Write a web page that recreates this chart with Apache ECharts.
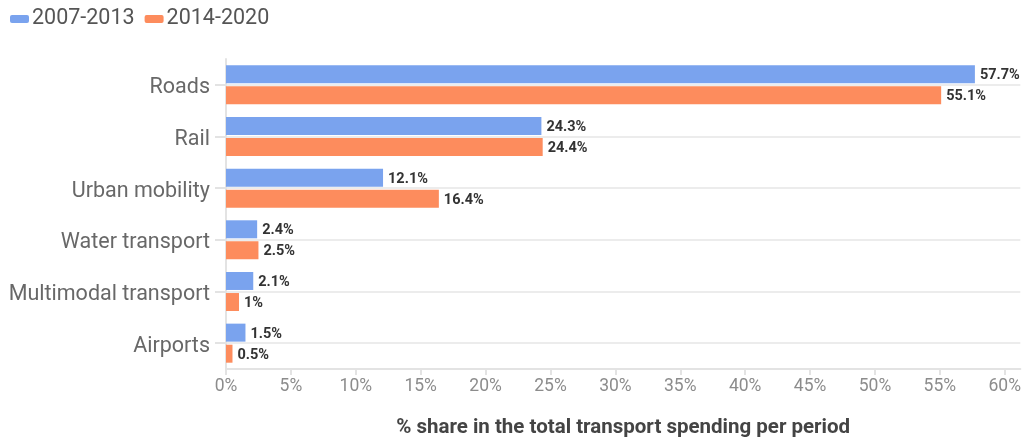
<!DOCTYPE html>
<html>
<head>
<meta charset="utf-8">
<script src="https://cdn.jsdelivr.net/npm/echarts@6/dist/echarts.min.js"></script>
<style>
  html, body { margin: 0; padding: 0; background: #ffffff; }
  #chart { width: 1024px; height: 443px; }
</style>
</head>
<body>
<div id="chart"></div>
<script>
// Transport spending share by mode, two programming periods
const categories = ['Roads', 'Rail', 'Urban mobility', 'Water transport', 'Multimodal transport', 'Airports'];
const period1Name = '2007-2013';
const period2Name = '2014-2020';
const period1Values = [57.7, 24.3, 12.1, 2.4, 2.1, 1.5];
const period2Values = [55.1, 24.4, 16.4, 2.5, 1, 0.5];
const xTicks = [0, 5, 10, 15, 20, 25, 30, 35, 40, 45, 50, 55, 60];

const chart = echarts.init(document.getElementById('chart'), null, { renderer: 'canvas' });
const FONT = 'Roboto, "Noto Sans", sans-serif';

const labelStyle = {
  show: true,
  position: 'right',
  distance: 5,
  formatter: p => '{v|' + p.value + '%}',
  rich: {
    v: { fontFamily: FONT, fontWeight: 'bold', fontSize: 14.5, color: '#333333', padding: [3, 0, 0, 0] }
  }
};

chart.setOption({
  animation: false,
  textStyle: { fontFamily: FONT },
  legend: {
    left: 5,
    top: 3,
    itemWidth: 19,
    itemHeight: 8,
    itemGap: 10,
    icon: 'roundRect',
    textStyle: { fontSize: 21.5, color: '#555555', fontFamily: FONT, padding: [0, 0, 0, -2] },
    data: [period1Name, period2Name]
  },
  grid: { left: 226, right: 3, top: 59, bottom: 71, containLabel: false },
  xAxis: {
    type: 'value',
    min: 0,
    max: 61.2,
    name: '% share in the total transport spending per period',
    nameLocation: 'middle',
    nameGap: 48,
    nameTextStyle: { fontSize: 20.5, fontWeight: 'bold', color: '#444444', fontFamily: FONT },
    axisLine: { show: true, lineStyle: { color: '#e3e3e3', width: 2 } },
    axisTick: { show: true, length: 6, lineStyle: { color: '#e3e3e3', width: 2 }, customValues: xTicks },
    axisLabel: {
      fontSize: 17.5, color: '#8c8c8c', margin: 9, fontFamily: FONT,
      formatter: v => v + '%', customValues: xTicks
    },
    splitLine: { show: false }
  },
  yAxis: {
    type: 'category',
    inverse: true,
    data: categories,
    axisLine: { show: true, lineStyle: { color: '#e3e3e3', width: 2 } },
    axisTick: { show: true, alignWithLabel: true, length: 11, lineStyle: { color: '#e3e3e3', width: 2 } },
    axisLabel: {
      margin: 16,
      formatter: v => '{c|' + v + '}',
      rich: {
        c: { fontSize: 21.5, color: '#686868', fontFamily: FONT, padding: [6, 0, 0, 0] }
      }
    },
    splitLine: { show: true, alignWithLabel: true, lineStyle: { color: '#ececec', width: 2 } }
  },
  series: [
    {
      name: period1Name,
      type: 'bar',
      data: period1Values,
      barWidth: 18,
      barGap: '17%',
      itemStyle: { color: '#7aa3ee' },
      label: labelStyle
    },
    {
      name: period2Name,
      type: 'bar',
      data: period2Values,
      barWidth: 18,
      barGap: '17%',
      itemStyle: { color: '#fd8c5d' },
      label: labelStyle
    }
  ]
});
</script>
</body>
</html>
